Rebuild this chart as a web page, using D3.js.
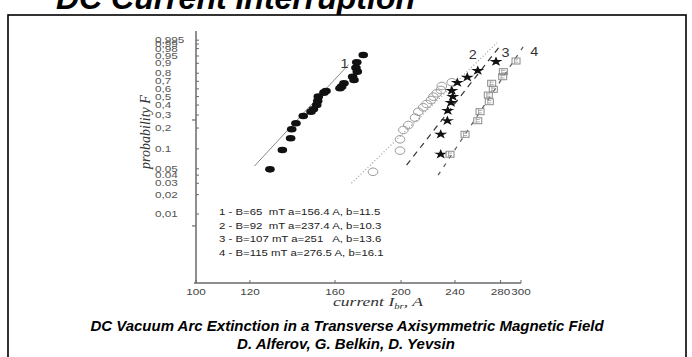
<!DOCTYPE html>
<html>
<head>
<meta charset="utf-8">
<script src="https://cdn.jsdelivr.net/npm/d3@7"></script>
<style>
  html, body { margin: 0; padding: 0; background: #fff; }
  svg { display: block; }
  text { white-space: pre; }
</style>
</head>
<body>
<svg id="chart" width="692" height="357"></svg>
<script>
// Weibull probability plot of the arc extinction current for four magnetic field values

// probability axis ticks (value, printed label)
const probTicks = [0.995, 0.99, 0.98, 0.95, 0.9, 0.8, 0.7, 0.6, 0.5, 0.4, 0.3, 0.2, 0.1, 0.05, 0.04, 0.03, 0.02, 0.01];
const probLabels = ["0,995", "0,99", "0,98", "0,95", "0,9", "0,8", "0,7", "0,6", "0,5", "0,4", "0,3", "0,2", "0.1", "0.05", "0.04", "0.03", "0,02", "0,01"];
// longer cross marks on the probability axis (Weibull units ln(-ln(1-F)))
const crossTicks = [-5.03, -1.21];
// current axis ticks, A
const currentTicks = [100, 120, 160, 200, 240, 280, 300];

// measured points: current (A) and cumulative probability F
const s1Current = [176.0, 172.2, 171.7, 172.5, 169.8, 170.6, 164.9, 163.6, 162.7, 155.2, 154.1, 151.2, 150.9, 150.4, 148.7, 147.5, 143.7, 140.2, 138.2, 137.7, 133.9, 128.4];
const s1Prob    = [0.955, 0.908, 0.860, 0.818, 0.758, 0.717, 0.674, 0.629, 0.607, 0.572, 0.550, 0.499, 0.447, 0.401, 0.355, 0.331, 0.291, 0.233, 0.192, 0.143, 0.096, 0.049];

const s2Current = [237.4, 229.5, 228.9, 225.6, 223.1, 221.3, 218.1, 215.6, 212.0, 209.7, 205.0, 201.6, 199.3, 199.3, 181.9];
const s2Prob    = [0.687, 0.638, 0.585, 0.542, 0.499, 0.458, 0.412, 0.376, 0.331, 0.277, 0.220, 0.188, 0.138, 0.094, 0.045];

const s3Current = [275.7, 259.2, 250.2, 241.9, 237.4, 238.2, 236.8, 234.2, 233.9, 228.7, 228.7];
const s3Prob    = [0.913, 0.829, 0.751, 0.682, 0.576, 0.499, 0.427, 0.341, 0.252, 0.163, 0.083];

const s4Current = [295.0, 282.6, 282.0, 271.7, 273.2, 268.6, 269.5, 261.2, 259.2, 248.3, 236.0];
const s4Prob    = [0.918, 0.818, 0.758, 0.674, 0.594, 0.520, 0.438, 0.331, 0.252, 0.163, 0.083];

// Weibull fit parameters per series: field B (mT), scale a (A), shape b
const seriesName = ["1", "2", "3", "4"];
const fieldB  = [65, 92, 107, 115];
const scaleA  = [156.4, 237.4, 251, 276.5];
const shapeB  = [11.5, 10.3, 13.6, 16.1];
// probability span covered by each fitted line
const fitProbLow  = [0.055, 0.030, 0.057, 0.040];
const fitProbHigh = [0.890, 0.992, 0.988, 0.985];
const legendLines = [
  "1 - B=65  mT a=156.4 A, b=11.5",
  "2 - B=92  mT a=237.4 A, b=10.3",
  "3 - B=107 mT a=251   A, b=13.6",
  "4 - B=115 mT a=276.5 A, b=16.1"
];

const weib = F => Math.log(-Math.log(1 - F));

const svg = d3.select("#chart");

// heading cut by the top edge of the slide
svg.append("text")
  .attr("x", 415).attr("y", 9)
  .attr("text-anchor", "end")
  .attr("font-family", "Liberation Sans, Arial, sans-serif")
  .attr("font-weight", "bold").attr("font-style", "italic")
  .attr("font-size", 32).attr("fill", "#000")
  .text("DC Current Interruption");

// slide frame
svg.append("rect")
  .attr("x", 8).attr("y", 15).attr("width", 678).attr("height", 360)
  .attr("fill", "#fff").attr("stroke", "#000").attr("stroke-width", 1.6);

// scales
const x = d3.scaleLog().domain([100, 300]).range([196, 521]);
const y = d3.scaleLinear().domain([weib(0.01), weib(0.9)]).range([214, 63.3]);
const yTopW = y.invert(31), yBotW = y.invert(283);

const axisColor = "#6a6a6a";
const g = svg.append("g");

// text stretched horizontally like the rest of the figure
function stretchedText(sel, px, py, sx) {
  return sel.attr("transform", `translate(${px},${py}) scale(${sx},1)`);
}

// y axis
g.append("line")
  .attr("x1", x(100)).attr("x2", x(100))
  .attr("y1", y(yTopW)).attr("y2", y(yBotW))
  .attr("stroke", axisColor).attr("stroke-width", 1.5);
g.selectAll(".ytick").data(probTicks).join("line")
  .attr("x1", x(100)).attr("x2", x(100) + 3)
  .attr("y1", d => y(weib(d))).attr("y2", d => y(weib(d)))
  .attr("stroke", axisColor).attr("stroke-width", 1);
g.selectAll(".ycross").data(crossTicks).join("line")
  .attr("x1", x(100) - 4).attr("x2", x(100))
  .attr("y1", d => y(d)).attr("y2", d => y(d))
  .attr("stroke", axisColor).attr("stroke-width", 1.2);
g.selectAll(".ylab").data(probTicks).join("text")
  .each(function(d) { stretchedText(d3.select(this), 155, y(weib(d)) + 3, 1.4); })
  .attr("font-family", "Liberation Sans, Arial, sans-serif")
  .attr("font-size", 8.4).attr("fill", "#555")
  .text((d, i) => probLabels[i]);

// x axis
g.append("line")
  .attr("x1", x(100) - 2).attr("x2", x(300))
  .attr("y1", y(yBotW)).attr("y2", y(yBotW))
  .attr("stroke", axisColor).attr("stroke-width", 1.5);
g.selectAll(".xtick").data(currentTicks).join("line")
  .attr("x1", d => x(d)).attr("x2", d => x(d))
  .attr("y1", y(yBotW)).attr("y2", y(yBotW) - 3)
  .attr("stroke", axisColor).attr("stroke-width", 1);
g.selectAll(".xlab").data(currentTicks).join("text")
  .each(function(d) { stretchedText(d3.select(this), x(d), y(yBotW) + 12, 1.3); })
  .attr("text-anchor", "middle")
  .attr("font-family", "Liberation Sans, Arial, sans-serif")
  .attr("font-size", 9).attr("fill", "#444")
  .text(d => d);

// axis titles
const xTitle = g.append("text");
stretchedText(xTitle, 378, 306, 1.35)
  .attr("text-anchor", "middle")
  .attr("font-family", "Liberation Serif, Times New Roman, serif")
  .attr("font-style", "italic").attr("font-size", 13).attr("fill", "#333");
xTitle.append("tspan").text("current I");
xTitle.append("tspan").attr("font-size", 8).attr("dy", 3).text("br");
xTitle.append("tspan").attr("dy", -3).text(", A");

g.append("text")
  .attr("transform", "translate(150,132) rotate(-90)")
  .attr("text-anchor", "middle")
  .attr("font-family", "Liberation Serif, Times New Roman, serif")
  .attr("font-style", "italic").attr("font-size", 14).attr("fill", "#333")
  .text("probability F");

// fitted Weibull lines: ln(-ln(1-F)) = b * ln(I / a)
const lineStyles = [
  { stroke: "#8a8a8a", dash: null, width: 1 },
  { stroke: "#9a9a9a", dash: "1,2.2", width: 1.2 },
  { stroke: "#333", dash: "6,5", width: 1.2 },
  { stroke: "#555", dash: "4,6", width: 1.2 }
];
const lineGen = d3.line().x(d => x(d[0])).y(d => y(d[1]));
seriesName.forEach((s, i) => {
  const w0 = weib(fitProbLow[i]), w1 = weib(fitProbHigh[i]);
  const seg = [w0, w1].map(w => [scaleA[i] * Math.exp(w / shapeB[i]), w]);
  g.append("path")
    .attr("d", lineGen(seg))
    .attr("fill", "none")
    .attr("stroke", lineStyles[i].stroke)
    .attr("stroke-width", lineStyles[i].width)
    .attr("stroke-dasharray", lineStyles[i].dash);
});

// series 1: filled ellipses
g.selectAll(".p1").data(s1Current).join("ellipse")
  .attr("cx", d => x(d)).attr("cy", (d, i) => y(weib(s1Prob[i])))
  .attr("rx", 4.8).attr("ry", 3.3).attr("fill", "#111");

// series 2: open circles
g.selectAll(".p2").data(s2Current).join("ellipse")
  .attr("cx", d => x(d)).attr("cy", (d, i) => y(weib(s2Prob[i])))
  .attr("rx", 4.8).attr("ry", 3.8)
  .attr("fill", "none").attr("stroke", "#9a9a9a").attr("stroke-width", 1);

// series 3: stars
const star = d3.symbol().type(d3.symbolStar).size(30);
g.selectAll(".p3").data(s3Current).join("path")
  .attr("d", star)
  .attr("transform", (d, i) => `translate(${x(d)},${y(weib(s3Prob[i]))}) scale(1.35,1)`)
  .attr("fill", "#111");

// series 4: boxed squares
const p4 = g.selectAll(".p4").data(s4Current).join("g")
  .attr("transform", (d, i) => `translate(${x(d)},${y(weib(s4Prob[i]))})`);
p4.append("rect")
  .attr("x", -4).attr("y", -3).attr("width", 8).attr("height", 6)
  .attr("fill", "none").attr("stroke", "#8a8a8a").attr("stroke-width", 1);
p4.append("path")
  .attr("d", "M-2,-1.2H2M-2,1.2H2M-1.5,-3V3")
  .attr("fill", "none").attr("stroke", "#9a9a9a").attr("stroke-width", 0.8);

// series numbers next to their curves
const tagAt = [[0.93, -9, 9], [0.97, -15, 7], [0.985, 6, 10], [0.985, 11, 9]];
seriesName.forEach((s, i) => {
  const w = weib(tagAt[i][0]);
  const I = scaleA[i] * Math.exp(w / shapeB[i]);
  stretchedText(g.append("text"), x(I) + tagAt[i][1], y(w) + tagAt[i][2], 1.2)
    .attr("text-anchor", "middle")
    .attr("font-family", "Liberation Sans, Arial, sans-serif")
    .attr("font-size", 12).attr("fill", "#333")
    .text(s);
});

// legend with fit parameters
g.selectAll(".leg").data(legendLines).join("text")
  .each(function(d, i) { stretchedText(d3.select(this), 219, 215 + i * 13.5, 1.2); })
  .attr("font-family", "Liberation Sans, Arial, sans-serif")
  .attr("font-size", 9.5).attr("fill", "#222")
  .text(d => d);

// caption
svg.append("text")
  .attr("x", 347).attr("y", 331)
  .attr("text-anchor", "middle")
  .attr("font-family", "Liberation Sans, Arial, sans-serif")
  .attr("font-weight", "bold").attr("font-style", "italic")
  .attr("font-size", 15).attr("fill", "#000")
  .text("DC Vacuum Arc Extinction in a Transverse Axisymmetric Magnetic Field");
svg.append("text")
  .attr("x", 346).attr("y", 349)
  .attr("text-anchor", "middle")
  .attr("font-family", "Liberation Sans, Arial, sans-serif")
  .attr("font-weight", "bold").attr("font-style", "italic")
  .attr("font-size", 15).attr("fill", "#000")
  .text("D. Alferov, G. Belkin, D. Yevsin");
</script>
</body>
</html>
